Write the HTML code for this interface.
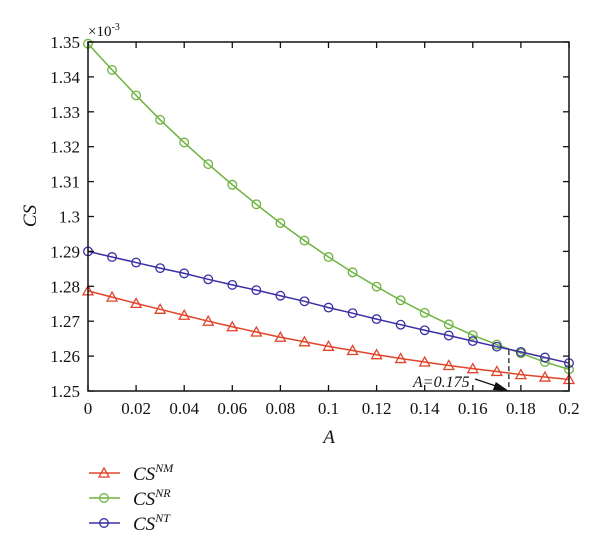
<!DOCTYPE html>
<html><head><meta charset="utf-8"><style>
body{margin:0;background:#fff}
svg{display:block;font-family:"Liberation Serif",serif}
</style></head><body>
<svg id="chart" width="600" height="550" viewBox="0 0 600 550" xmlns="http://www.w3.org/2000/svg">
<g id="grid"></g>
<g id="marks"></g>
<g id="axes"></g>
</svg>
<script>
const xValues=[0,0.01,0.02,0.03,0.04,0.05,0.06,0.07,0.08,0.09,0.1,0.11,0.12,0.13,0.14,0.15,0.16,0.17,0.18,0.19,0.2];
const seriesNM=[1.2787,1.2769,1.2751,1.2734,1.2717,1.2700,1.2684,1.2669,1.2654,1.2641,1.2628,1.2616,1.2604,1.2593,1.2583,1.2573,1.2564,1.2556,1.2547,1.2540,1.2533];
const seriesNR=[1.3495,1.3420,1.3347,1.3277,1.3212,1.3150,1.3091,1.3035,1.2981,1.2931,1.2884,1.2840,1.2799,1.2760,1.2724,1.2691,1.2660,1.2633,1.2608,1.2583,1.2562];
const seriesNT=[1.2900,1.2884,1.2868,1.2852,1.2837,1.2820,1.2804,1.2789,1.2773,1.2757,1.2739,1.2723,1.2706,1.2690,1.2674,1.2659,1.2643,1.2627,1.2612,1.2596,1.2580];
const xTicks=[0,0.02,0.04,0.06,0.08,0.1,0.12,0.14,0.16,0.18,0.2];
const yTicks=[1.25,1.26,1.27,1.28,1.29,1.3,1.31,1.32,1.33,1.34,1.35];
const annotX=0.175, annotY=1.2617;

const L=88,R=569,T=42,B=391;
const xs=v=>L+(v-0)/(0.2-0)*(R-L);
const ys=v=>B-(v-1.25)/(1.35-1.25)*(B-T);
const NS="http://www.w3.org/2000/svg";
function mk(tag,attrs,parent,text){const e=document.createElementNS(NS,tag);for(const k in attrs)e.setAttribute(k,attrs[k]);if(text!==undefined)e.textContent=text;parent.appendChild(e);return e;}
const axes=document.getElementById('axes'),marks=document.getElementById('marks');

// frame
let f=mk('rect',{x:L,y:T,width:R-L,height:B-T,fill:'none',stroke:'#111','stroke-width':1.5},axes);


xTicks.forEach(t=>{
  const x=xs(t);
  mk('line',{x1:x,y1:B,x2:x,y2:B-6,stroke:'#111','stroke-width':1.3},axes);
  mk('line',{x1:x,y1:T,x2:x,y2:T+6,stroke:'#111','stroke-width':1.3},axes);
  const lb=mk('text',{x:x,y:B+23,'font-size':17,'text-anchor':'middle',fill:'#111'},axes,String(t));
  
  
});
yTicks.forEach(t=>{
  const y=ys(t);
  mk('line',{x1:L,y1:y,x2:L+6,y2:y,stroke:'#111','stroke-width':1.3},axes);
  mk('line',{x1:R,y1:y,x2:R-6,y2:y,stroke:'#111','stroke-width':1.3},axes);
  const lb=mk('text',{x:80,y:y+6,'font-size':17,'text-anchor':'end',fill:'#111'},axes,String(t));
  
  
});
let ex=mk('text',{x:88,y:36,'font-size':15,fill:'#111'},axes);


ex.innerHTML='×10<tspan dy="-6" font-size="10">-3</tspan>';
let yt=mk('text',{x:36,y:216,'font-size':19,'font-style':'italic','text-anchor':'middle',transform:'rotate(-90 36 216)',fill:'#111'},axes,'CS');


let xt=mk('text',{x:329,y:443,'font-size':19,'font-style':'italic','text-anchor':'middle',fill:'#111'},axes,'A');



// annotation
let dl=mk('line',{x1:xs(annotX),y1:ys(annotY),x2:xs(annotX),y2:B,stroke:'#111','stroke-width':1.2,'stroke-dasharray':'5,3'},marks);


let ar=mk('line',{x1:475,y1:379,x2:xs(annotX)-4,y2:B-2,stroke:'#111','stroke-width':1.3},marks);


let ah=mk('polygon',{points:`${xs(annotX)},${B} ${xs(annotX)-13},${B-9} ${xs(annotX)-16},${B-1}`,fill:'#111'},marks);


let at=mk('text',{x:413,y:387,'font-size':16,'font-style':'italic',fill:'#111'},marks,'A=0.175');



function marker(g,type,x,y,c){
  if(type==='tri') return mk('polygon',{points:`${x},${y-5} ${x-5},${y+4} ${x+5},${y+4}`,fill:'none',stroke:c,'stroke-width':1.3},g);
  return mk('circle',{cx:x,cy:y,r:4.3,fill:'none',stroke:c,'stroke-width':1.3},g);
}
const series=[
 {name:'nr',vals:seriesNR,c:'#6db33f',m:'circ'},
 {name:'nt',vals:seriesNT,c:'#3b2fa3',m:'circ'},
 {name:'nm',vals:seriesNM,c:'#e0452a',m:'tri'}];
series.forEach(s=>{
  const g=mk('g',{},marks);
  
  
  const p=mk('polyline',{points:s.vals.map((v,i)=>xs(xValues[i])+','+ys(v)).join(' '),fill:'none',stroke:s.c,'stroke-width':1.5},g);
  
  
  s.vals.forEach((v,i)=>{
    const m=marker(g,s.m,xs(xValues[i]),ys(v),s.c);
    
    
  });
});

// legend
const legend=[['NM','#e0452a','tri',473],['NR','#6db33f','circ',498],['NT','#3b2fa3','circ',523]];
legend.forEach(l=>{
  const g=mk('g',{},axes);
  
  
  mk('line',{x1:89,y1:l[3],x2:120,y2:l[3],stroke:l[1],'stroke-width':1.5},g);
  marker(g,l[2],104,l[3],l[1]);
  const t=mk('text',{x:133,y:l[3]+7,'font-size':19,'font-style':'italic',fill:'#111'},g);
  t.innerHTML='CS<tspan dy="-8" font-size="12">'+l[0]+'</tspan>';
});
</script>
</body></html>
